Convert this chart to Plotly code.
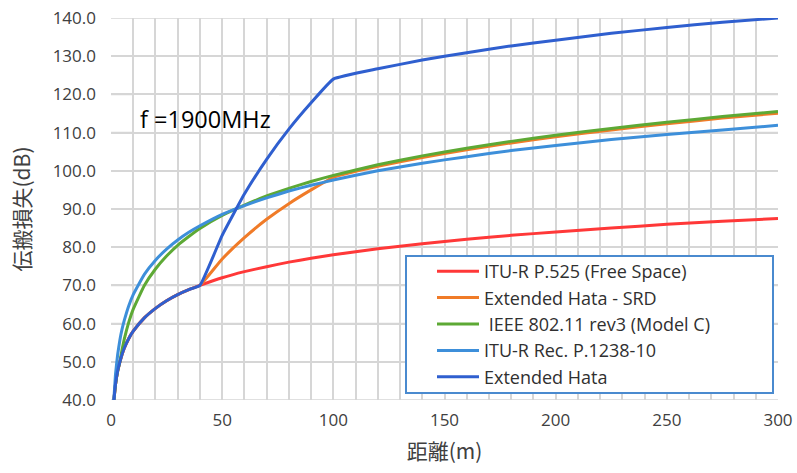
import plotly.graph_objects as go

distance_m = [1, 2, 3, 4, 5, 6, 8, 10, 15, 20, 25, 30, 35, 40, 50, 60, 70, 80, 90, 100,
              120, 140, 160, 180, 200, 225, 250, 275, 300]

itu_p525 = [38.0, 44.0, 47.6, 50.0, 52.0, 53.6, 56.1, 58.0, 61.5, 64.0, 66.0, 67.6, 68.9, 70.0,
            72.0, 73.6, 74.9, 76.1, 77.1, 78.0, 79.6, 80.9, 82.1, 83.1, 84.0, 85.0, 86.0, 86.8, 87.5]

ext_hata_srd = [38.0, 44.0, 47.6, 50.0, 52.0, 53.6, 56.1, 58.0, 61.5, 64.0, 66.0, 67.6, 68.9, 70.0,
                76.9, 82.5, 87.3, 91.4, 95.0, 98.3, 101.2, 103.5, 105.5, 107.3, 108.9, 110.7, 112.3, 113.8, 115.1]

ieee_80211 = [38.0, 44.0, 47.6, 50.0, 53.3, 56.0, 60.4, 63.8, 70.0, 74.3, 77.7, 80.5, 82.8, 84.9,
              88.3, 91.0, 93.4, 95.4, 97.2, 98.8, 101.6, 103.9, 105.9, 107.7, 109.3, 111.1, 112.7, 114.2, 115.5]

itu_p1238 = [37.6, 46.6, 51.9, 55.7, 58.6, 60.9, 64.7, 67.6, 72.9, 76.6, 79.5, 81.9, 83.9, 85.6,
             88.6, 90.9, 92.9, 94.7, 96.2, 97.6, 100.0, 102.0, 103.7, 105.3, 106.6, 108.2, 109.5, 110.7, 111.9]

ext_hata = [38.0, 44.0, 47.6, 50.0, 52.0, 53.6, 56.1, 58.0, 61.5, 64.0, 66.0, 67.6, 68.9, 70.0,
            83.1, 93.9, 103.0, 110.9, 117.8, 124.0, 126.7, 129.0, 130.9, 132.7, 134.2, 136.0, 137.5, 138.9, 140.0]

series_names = ["ITU-R P.525 (Free Space)", "Extended Hata - SRD", " IEEE 802.11 rev3 (Model C)",
                "ITU-R Rec. P.1238-10", "Extended Hata"]
series_values = [itu_p525, ext_hata_srd, ieee_80211, itu_p1238, ext_hata]
series_colors = ["#FF3838", "#F07B28", "#5DA935", "#3D8FDA", "#2F5FCF"]

x_ticks = [0, 50, 100, 150, 200, 250, 300]
y_ticks = [40, 50, 60, 70, 80, 90, 100, 110, 120, 130, 140]

FONT = "Open Sans, Noto Sans CJK JP, sans-serif"
JFONT = "Noto Sans CJK JP, sans-serif"
GRID = "#D6D6D6"

PW, PH, L0, B0 = 667, 382, 111, 400  # plot-area size and origin, used to place boxes

fig = go.Figure()
for name, vals, col in zip(series_names, series_values, series_colors):
    fig.add_trace(go.Scatter(x=distance_m, y=vals, mode="lines", name=name,
                             line=dict(color=col, width=3, shape="spline", smoothing=0.35)))

fig.update_layout(
    width=797, height=473,
    margin=dict(l=111, r=19, t=18, b=73, autoexpand=False),
    paper_bgcolor="white", plot_bgcolor="white",
    font=dict(family=FONT, color="#404040", size=16),
    showlegend=True,
    legend=dict(x=(432 - L0) / PW, y=(B0 - 253) / PH, xanchor="left", yanchor="top",
                bgcolor="rgba(0,0,0,0)", borderwidth=0,
                font=dict(family=FONT, size=18, color="#303030"),
                itemwidth=42, tracegroupgap=0),
    xaxis=dict(range=[0, 300], tickmode="array", tickvals=x_ticks,
               showgrid=True, gridcolor=GRID, gridwidth=1.5,
               minor=dict(dtick=10, tick0=0, showgrid=True, gridcolor=GRID, gridwidth=1.5),
               zeroline=False, showline=False, ticks="", automargin=False,
               tickfont=dict(family=FONT, size=17, color="#404040"), ticklabelstandoff=8,
               title=dict(text="距離(m)", font=dict(family=JFONT, size=21, color="#404040"), standoff=14)),
    yaxis=dict(range=[40, 140], tickmode="array", tickvals=y_ticks, tickformat=".1f",
               showgrid=True, gridcolor=GRID, gridwidth=1.5,
               zeroline=False, showline=False, ticks="", automargin=False,
               tickfont=dict(family=FONT, size=17, color="#404040"), ticklabelstandoff=14,
               title=dict(text="伝搬損失(dB)", font=dict(family=JFONT, size=21, color="#404040"), standoff=16)),
)

# horizontal grid lines at the y tick values (drawn below the data)
for yv in y_ticks:
    fig.add_shape(type="line", xref="paper", yref="y", x0=0, x1=1, y0=yv, y1=yv,
                  line=dict(color=GRID, width=1.5), layer="below")

# white box behind the frequency label (covers grid, not the curves)
fig.add_shape(type="rect", xref="paper", yref="paper",
              x0=(133 - L0) / PW, x1=(279 - L0) / PW,
              y0=(B0 - 145) / PH, y1=(B0 - 93) / PH,
              line=dict(width=0), fillcolor="white", layer="between")

# legend frame
fig.add_shape(type="rect", xref="paper", yref="paper",
              x0=(406 - L0) / PW, x1=(773 - L0) / PW,
              y0=(B0 - 393) / PH, y1=(B0 - 256) / PH,
              line=dict(color="#4A8ACF", width=2), fillcolor="white", layer="above")

# frequency label
fig.add_annotation(xref="paper", yref="paper", x=(205 - L0) / PW, y=(B0 - 119.5) / PH,
                   xanchor="center", yanchor="middle",
                   text="f =1900MHz", showarrow=False,
                   font=dict(family=FONT, size=23.5, color="black"))

fig.write_html("out.html", config={"displayModeBar": False},
               post_script="document.body.style.margin='0px';")
